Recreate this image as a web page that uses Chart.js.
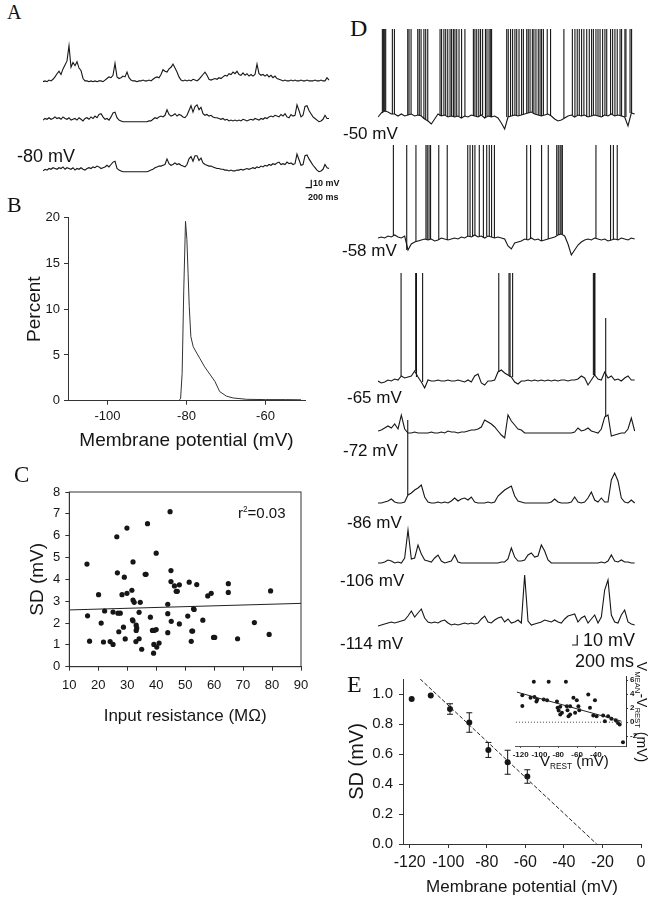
<!DOCTYPE html>
<html>
<head>
<meta charset="utf-8">
<script src="https://cdn.jsdelivr.net/npm/chart.js"></script>
<style>
html, body { margin: 0; padding: 0; background: #fff; width: 658px; height: 899px; overflow: hidden; }
#fig { position: relative; width: 658px; height: 899px; font-family: 'Liberation Sans', Arial, sans-serif; color: #111; }
#fig canvas { position: absolute; }
.t { position: absolute; white-space: nowrap; line-height: 1; transform: translateY(-50%); }
.l { font-family: 'Liberation Serif', 'Times New Roman', serif; }
.rot { transform: translate(-50%, -50%) rotate(90deg); }
sub { font-size: 0.55em; vertical-align: -0.3em; }
</style>
</head>
<body>
<div id="fig"></div>
<script>
// ---- A: spontaneous activity at -80 mV (mV above rest, one sample every 70 ms)
const aStep = 70;
const a1 = [0,1,0,2,1,3,6,10,13,9,16,21, 26,45,18,24,20,25,17,14,4,1,1,0,
            1,0,1,0,1,1,0,2,4,6,5,8, 23,6,4,5,7,6,12,5,2,1,1,0,
            1,1,2,1,1,2,1,3,5,6,5,9, 15,13,12,16,18,22,17,12,6,2,1,2,
            1,2,1,3,2,1,3,6,9,12,8,3, 2,3,4,3,5,4,6,8,7,10,9,12,
            10,13,9,8,11,8,10,7,9,7,9,22, 10,8,9,7,9,6,8,5,7,4,3,2,
            1,2,1,1,2,1,2,1,1,2,1,1, 2,1,1,1,2,1,1,2,1,1,5,2];
const a2 = [2,4,3,5,3,4,6,4,5,3,6,4, 3,5,2,3,4,2,5,3,1,4,5,3,
            6,4,7,5,9,10,6,3,4,2,6,11, 12,5,2,1,0,0,0,0,0,0,0,0,
            0,0,0,0,0,1,1,3,5,4,6,7, 6,8,15,9,7,8,10,7,9,8,6,5,
            8,14,20,12,19,21,15,18,10,8,9,7, 8,6,5,5,4,3,4,2,3,1,2,1,
            2,1,2,1,3,2,1,2,3,2,4,3, 2,4,3,5,4,6,7,6,8,7,6,9,
            7,10,6,5,9,7,8,21,14,6,8,19, 20,14,10,6,4,2,0,1,3,8,4,4];
const a3 = [1,3,2,4,3,5,4,3,5,4,6,3, 5,4,3,5,2,4,3,5,3,2,4,5,
            4,6,5,7,6,4,5,6,8,6,9,12, 13,4,2,1,0,0,0,0,0,0,0,0,
            0,0,0,0,0,1,2,3,5,6,7,7, 8,9,16,10,8,9,11,9,10,8,7,6,
            9,16,19,13,20,20,14,17,11,9,8,7, 7,6,5,4,4,3,3,2,2,1,2,1,
            1,2,2,3,2,3,4,3,4,5,4,6, 5,7,6,8,7,9,8,10,9,11,12,9,
            10,9,12,10,11,9,10,22,15,8,9,20, 21,16,12,8,5,2,0,1,3,9,5,4];

// ---- B: membrane potential histogram
const bPot = [-110,-82,-81.5,-81.1,-80.7,-80.25,-79.9,-79.6,-79.3,-78.9,-78.3,-77.4,-76.6,-75.4,-74.1,-72.8,-71.6,-69.9,-68.2,-64.8,-60,-55,-51];
const bPct = [0,0,0.2,3,12,19.6,17.6,13.9,10.3,7,5.9,5.2,4.6,3.7,2.9,2.1,1,0.5,0.3,0.15,0.12,0.12,0.1];

// ---- C: SD vs input resistance
const cRes = [16.1,26.4,29.9,37.0,44.8,40.0,32.0,26.6,29.0,36.2, 36.5,45.1,45.1,46.3,48.0,46.9,47.3,51.4,54.0,64.9,
              64.9,57.8,59.0,79.5,20.1,28.2,29.9,31.6,32.0,32.4, 34.5,44.0,52.9,53.1,16.3,22.2,25.1,26.8,27.6,34.1,
              31.8,32.0,38.0,44.0,50.9,21.0,45.2,48.0,56.1,73.9, 28.7,33.1,33.3,27.1,33.1,38.7,40.0,39.3,44.0,52.3,
              52.6,79.0,17.0,21.8,24.1,25.1,29.3,33.0,34.1,39.2, 40.2,41.0,35.0,39.1,59.8,60.2,52.1,68.1];
const cSd = [4.7,5.95,6.35,6.55,7.1,5.2,4.8,4.3,4.1,4.23, 4.23,4.4,3.9,3.7,3.75,3.45,3.45,3.87,3.76,3.8,
             3.4,3.24,3.36,3.47,3.3,3.3,3.36,3.5,3.05,2.95, 2.95,2.86,2.65,2.62,2.33,2.55,2.5,2.45,2.45,2.49,
             2.15,2.1,2.27,2.43,2.32,2.0,2.08,1.96,2.13,2.02, 1.81,1.9,1.77,1.6,1.66,1.66,1.7,1.66,1.56,1.63,
             1.63,1.48,1.17,1.13,1.15,1.02,1.27,1.15,1.28,1.02, 0.9,1.08,0.8,0.62,1.34,1.34,1.16,1.28];
const cFitX = [10, 90];
const cFitY = [2.6, 2.9];

// ---- D: traces at different holding potentials (mV above baseline, one sample every 130 ms)
const dStep = 130;
const d1 = [0,4,6,5,3,3,1,3,1,2, 3,1,2,1,-2,-4,-7,-2,3,1, 2,0,1,0,1,-1,1,0,2,1, 0,2,-1,1,0,1,-1,-6,-12,0,
            1,2,1,2,3,4,5,3,2,1, 2,3,1,-2,-4,-3,-1,1,2,0, 2,1,2,0,1,2,1,0,2,1, 3,1,2,1,0,-9,4,3];
const d2 = [2,3,2,4,3,5,3,2,4,-10, -4,-2,-1,0,1,0,1,-1,0,2, 1,0,1,2,1,3,2,4,3,5, 3,4,2,4,3,2,3,2,1,-6,
            -9,-3,-2,-1,1,0,2,0,1,-1, 0,1,2,3,5,6,4,-4,-15,-10, -5,-2,0,1,0,2,1,0,1,-1, 0,1,0,2,1,0,2,1];
const d3 = [-1,-3,-2,0,-1,1,0,4,2,3, 4,9,3,-2,-8,0,-1,-1,0,-1, -1,0,-1,-1,0,-1,-2,0,-2,4, 6,-3,-5,-1,-1,0,8,10,7,5,
            3,-2,-4,-1,-1,0,-1,0,-1,0, -1,0,-1,0,-1,0,0,-1,0,0, 1,4,2,-5,0,5,1,0,8,2, 4,0,1,-1,2,4,0,0];
const d4 = [2,3,5,7,5,9,4,18,4,0, 0,1,0,0,0,0,1,0,0,1, 0,2,1,1,0,1,1,2,3,3, 4,6,13,11,9,6,2,-2,-5,18,
            12,8,4,3,0,0,0,0,0,0, 0,0,0,0,0,0,0,0,0,1, 5,2,3,5,2,1,0,4,16,18, -3,-2,-1,0,0,4,15,2];
const d5 = [0,0,1,2,4,1,0,0,1,8, 10,13,15,18,6,1,0,0,1,0, 1,0,2,5,2,4,5,3,6,1, 0,0,0,1,0,1,7,10,13,15,
            17,7,2,1,0,0,0,0,0,0, 0,0,1,4,1,0,0,0,1,6, 1,0,1,5,11,3,1,5,1,1, 23,30,22,5,1,0,3,0];
const d6 = [0,0,1,3,2,0,1,0,5,33, 4,5,18,9,3,2,1,5,8,2, 0,1,2,8,1,0,0,0,0,0, 0,0,0,0,0,0,0,1,1,4,
            15,6,2,2,3,8,10,6,7,18, 12,3,0,0,0,0,0,0,0,0, 0,0,0,0,0,0,0,1,0,2, 8,2,1,3,1,1,0,0];
const d7 = [-1,0,1,2,3,2,3,4,5,9, 14,8,12,16,7,3,2,3,2,4, 5,2,0,1,0,1,2,1,2,1, 2,6,9,3,2,5,7,8,3,6,
            2,3,5,2,50,4,0,1,2,3, 5,4,3,5,3,2,6,9,10,11, 3,7,9,2,6,10,2,8,35,45, 10,3,2,10,15,3,1,0];
// spike times (ms)
const d1Spikes = [170,210,260,300,560,640,1160,1210,1290,1550,1610,1680,1790,1860,1940,2420,2480,2570,2640,2720,
                  2810,2870,2940,3000,3070,3160,3260,3390,3720,3780,3850,3930,4000,4080,4190,4250,4330,4380,4430,
                  5020,5080,5170,5250,5340,5410,5500,5600,5670,5800,5860,5930,6020,6080,6160,6250,6320,6380,6450,
                  6600,6730,7250,7580,7680,7770,7850,7940,8030,8140,8240,8330,8400,8500,8580,8660,8760,8850,8920,
                  9070,9150,9240,9330,9440,9500,9630,9670,9830,9890];
const d2Spikes = [600,1120,1480,1870,1920,1990,2050,2370,2700,3500,3590,3690,3780,3950,4110,4240,4340,4430,4540,
                  5800,5950,6380,6640,6970,7030,7100,7140,7190,8500,9070,9180,9330];
const d3Spikes = [900,1470,1500,1740,4710,5110,5150,5250,8400,8440,8460];
const d4Spikes = [8880];
const d5Spikes = [1160];
const dPeaks = [88, 95, 107, 115, 83];

// ---- E: SD vs membrane potential, inset V_mean - V_rest vs V_rest
const eV = [-119, -109.1, -99.1, -89.1, -79.2, -69.2, -59];
const eSd = [0.967, 0.99, 0.9, 0.81, 0.627, 0.545, 0.45];
const eErr = [0, 0, 0.035, 0.065, 0.05, 0.08, 0.045];
const eFitX = [-114.6, -23];
const eFitY = [1.1, 0];
const insRest = [-118.2,-118.2,-109.5,-105.3,-102.4,-103.2,-106,-90.2,-71.9,-95.5,-91.9,-81.4,-80.7,-77.9,-79.6,-76.1,-77.9,
                 -70.9,-67.4,-63.9,-60.3,-58.6,-70.2,-69.1,-62.1,-57.6,-67.4,-48.1,-41,-46.3,-42.8,-39.3,-32.3,-30.5,-27,
                 -23.5,-18.9,-16.5,-14.7,-11.2];
const insDiff = [3.86,2.3,3.5,3.6,3.24,2.96,5.77,5.77,5.77,3.24,3.14,2.96,2.05,2.2,1.67,1.34,1.1,
                 2.29,2.29,3.5,3.14,2.29,1.72,0.86,1.34,1.72,1.1,3.96,3.14,2.05,0.96,0.86,0.96,0.14,0.86,
                 0.48,0.29,-0.1,-0.33,-2.86];
const insFitX = [-124, -13];
const insFitY = [4.3, 0.15];

// ---------------------------------------------------------------
const fig = document.getElementById('fig');
const INK = '#161616';

function makeCanvas(left, top, w, h) {
    const c = document.createElement('canvas');
    c.width = w; c.height = h;
    c.style.left = left + 'px'; c.style.top = top + 'px';
    c.style.width = w + 'px'; c.style.height = h + 'px';
    fig.appendChild(c);
    return c.getContext('2d');
}

function text(html, x, y, size, cls) {
    const d = document.createElement('div');
    d.className = 't ' + (cls || '');
    d.style.left = x + 'px';
    d.style.top = y + 'px';
    d.style.fontSize = size + 'px';
    d.innerHTML = html;
    fig.appendChild(d);
    return d;
}

const xy = (xs, ys) => xs.map((x, i) => ({x: x, y: ys[i]}));

const base = {
    animation: false, responsive: false, devicePixelRatio: 1,
    plugins: {legend: {display: false}, tooltip: {enabled: false}}
};

function axis(o) {
    return Object.assign({
        type: 'linear',
        grid: {display: true, drawOnChartArea: false, tickLength: 4, color: '#333'},
        border: {display: true, color: '#333', width: 1}
    }, o);
}

// one trace = one canvas; every spike is its own two-point line
function trace(samples, step, spikes, peak, left, width, msPx, baseY, top, bottom, mvPx, bar) {
    const ctx = makeCanvas(left, top, width, bottom - top);
    const sets = [{data: samples.map((v, i) => ({x: i * step, y: v})), borderWidth: 1.1}];
    (spikes || []).forEach(t => {
        const b = samples[Math.min(samples.length - 1, Math.round(t / step))];
        sets.push({data: [{x: t, y: b}, {x: t, y: peak}], borderWidth: 1.1});
    });
    if (bar) {
        sets.push({data: [{x: bar.t, y: bar.v}, {x: bar.t + 200, y: bar.v}, {x: bar.t + 200, y: bar.v + 10}], borderWidth: 1.2});
    }
    sets.forEach(s => Object.assign(s, {showLine: true, pointRadius: 0, borderColor: INK}));
    new Chart(ctx, {
        type: 'scatter',
        data: {datasets: sets},
        options: Object.assign({}, base, {
            layout: {padding: 0},
            scales: {
                x: {display: false, min: 0, max: width * msPx},
                y: {display: false, min: -(bottom - baseY) * mvPx, max: (baseY - top) * mvPx}
            }
        })
    });
}

// ---- panel A
trace(a1, aStep, null, 0, 43, 290, 35, 81.7, 40, 92, 1.25);
trace(a2, aStep, null, 0, 43, 290, 35, 121.7, 100, 132, 1.25);
trace(a3, aStep, null, 0, 43, 290, 35, 171.7, 145, 195, 1.25, {t: 9190, v: -20});
text('A', 7, 12, 20, 'l');
text('-80 mV', 17, 156, 18);
text('10 mV', 313, 183, 9).style.fontWeight = 'bold';
text('200 ms', 308, 197, 9).style.fontWeight = 'bold';

// ---- panel B
new Chart(makeCanvas(0, 200, 330, 260), {
    type: 'scatter',
    data: {datasets: [{data: xy(bPot, bPct), showLine: true, borderColor: '#333', borderWidth: 1, pointRadius: 0}]},
    options: Object.assign({}, base, {
        layout: {padding: {top: 17.7, right: 25, left: 0, bottom: 0}},
        scales: {
            x: axis({min: -110, max: -50,
                afterBuildTicks: s => { s.ticks = [-100, -80, -60].map(v => ({value: v})); },
                afterFit: s => { s.height = 59.3; },
                ticks: {color: INK, font: {size: 13}, padding: 3.5},
                title: {display: true, text: 'Membrane potential (mV)', color: INK, font: {size: 19}, padding: {top: 0, bottom: 7.6}}}),
            y: axis({min: 0, max: 20,
                afterFit: s => { s.width = 68; },
                ticks: {stepSize: 5, color: INK, font: {size: 13}, padding: 4},
                title: {display: true, text: 'Percent', color: INK, font: {size: 19}, padding: {top: 23.6, bottom: 0}}})
        }
    })
});
text('B', 7, 205, 22, 'l');

// ---- panel C
const frame = {
    id: 'frame',
    afterDraw(chart) {
        const {ctx, chartArea: a} = chart;
        ctx.save();
        ctx.strokeStyle = '#333'; ctx.lineWidth = 1;
        ctx.strokeRect(a.left, a.top, a.right - a.left, a.bottom - a.top);
        ctx.restore();
    }
};
new Chart(makeCanvas(0, 470, 330, 260), {
    type: 'scatter',
    data: {datasets: [
        {data: xy(cRes, cSd), pointRadius: 2.6, backgroundColor: INK, borderColor: INK, borderWidth: 0},
        {data: xy(cFitX, cFitY), showLine: true, pointRadius: 0, borderColor: '#222', borderWidth: 1}
    ]},
    options: Object.assign({}, base, {
        layout: {padding: {top: 22, right: 29, left: 0, bottom: 0}},
        scales: {
            x: axis({min: 10, max: 90,
                afterFit: s => { s.height = 63.3; },
                ticks: {stepSize: 10, color: INK, font: {size: 13}, padding: 7},
                title: {display: true, text: 'Input resistance (MΩ)', color: INK, font: {size: 17}, padding: {top: 0, bottom: 3.8}}}),
            y: axis({min: 0, max: 8,
                afterFit: s => { s.width = 69.3; },
                ticks: {stepSize: 1, color: INK, font: {size: 13}, padding: 5},
                title: {display: true, text: 'SD (mV)', color: INK, font: {size: 19}, padding: {top: 26, bottom: 0}}})
        }
    }),
    plugins: [frame]
});
text('C', 14, 474, 23, 'l');
text('r<sup style="font-size:0.55em">2</sup>=0.03', 238, 512, 15);

// ---- panel D
trace(d1, dStep, d1Spikes, dPeaks[0], 378, 262, 39, 117, 20, 135, 1);
trace(d2, dStep, d2Spikes, dPeaks[1], 378, 262, 39, 240, 140, 262, 1);
trace(d3, dStep, d3Spikes, dPeaks[2], 378, 262, 39, 380, 268, 398, 1);
trace(d4, dStep, d4Spikes, dPeaks[3], 378, 262, 39, 433, 310, 445, 1);
trace(d5, dStep, d5Spikes, dPeaks[4], 378, 262, 39, 503, 410, 515, 1);
trace(d6, dStep, null, 0, 378, 262, 39, 563, 520, 575, 1);
trace(d7, dStep, null, 0, 378, 262, 39, 625, 570, 650, 1, {t: 7570, v: -20});
text('D', 350, 28, 24, 'l');
text('-50 mV', 343, 133, 17);
text('-58 mV', 342, 250, 17);
text('-65 mV', 347, 397, 17);
text('-72 mV', 343, 450, 17);
text('-86 mV', 347, 522, 17);
text('-106 mV', 340, 580, 17);
text('-114 mV', 340, 643, 17);
text('10 mV', 583, 640, 18);
text('200 ms', 575, 661, 18);

// ---- panel E
const errSeg = [], errCap = [];
eV.forEach((v, i) => {
    if (!eErr[i]) return;
    errSeg.push({x: v, y: eSd[i] - eErr[i]}, {x: v, y: eSd[i] + eErr[i]}, {x: v, y: null});
    errCap.push({x: v, y: eSd[i] - eErr[i]}, {x: v, y: eSd[i] + eErr[i]});
});
new Chart(makeCanvas(340, 660, 318, 239), {
    type: 'scatter',
    data: {datasets: [
        {data: xy(eFitX, eFitY), showLine: true, pointRadius: 0, borderColor: '#222', borderWidth: 1, borderDash: [4, 2]},
        {data: errSeg, showLine: true, pointRadius: 0, borderColor: INK, borderWidth: 1, spanGaps: false},
        {data: errCap, pointStyle: 'line', pointRadius: 3, borderColor: INK, borderWidth: 1},
        {data: xy(eV, eSd), pointRadius: 3, backgroundColor: INK, borderColor: INK, borderWidth: 0}
    ]},
    options: Object.assign({}, base, {
        layout: {padding: {top: 19, right: 17, left: 0, bottom: 0}},
        scales: {
            x: axis({min: -123.5, max: 0,
                afterBuildTicks: s => { s.ticks = [-120, -100, -80, -60, -40, -20, 0].map(v => ({value: v})); },
                afterFit: s => { s.height = 55; },
                ticks: {color: INK, font: {size: 16}, padding: 5},
                title: {display: true, text: 'Membrane potential (mV)', color: INK, font: {size: 17}, padding: {top: 0, bottom: 1.8}}}),
            y: axis({min: 0, max: 1.1,
                afterBuildTicks: s => { s.ticks = [0, 0.2, 0.4, 0.6, 0.8, 1.0].map(v => ({value: v})); },
                afterFit: s => { s.width = 63; },
                ticks: {color: INK, font: {size: 15}, padding: 6, callback: v => v.toFixed(1)},
                title: {display: true, text: 'SD (mV)', color: INK, font: {size: 20}, padding: {top: 5, bottom: 0}}})
        }
    })
});
text('E', 347, 684, 24, 'l');

// inset
new Chart(makeCanvas(505, 668, 140, 97), {
    type: 'scatter',
    data: {datasets: [
        {data: xy([-125, -12], [0, 0]), showLine: true, pointRadius: 0, borderColor: '#444', borderWidth: 1, borderDash: [1, 2]},
        {data: xy(insFitX, insFitY), showLine: true, pointRadius: 0, borderColor: '#222', borderWidth: 1},
        {data: xy(insRest, insDiff), pointRadius: 2, backgroundColor: INK, borderColor: INK, borderWidth: 0}
    ]},
    options: Object.assign({}, base, {
        layout: {padding: {top: 8, right: 0, left: 10, bottom: 0}},
        scales: {
            x: axis({min: -126, max: -8,
                afterBuildTicks: s => { s.ticks = [-120, -100, -80, -60, -40].map(v => ({value: v})); },
                afterFit: s => { s.height = 19; },
                grid: {display: true, drawOnChartArea: false, tickLength: 2, color: '#555'},
                border: {display: true, color: '#555', width: 1, dash: [1, 2]},
                ticks: {color: INK, font: {size: 8, weight: 'bold'}, padding: 2}}),
            y: axis({position: 'right', min: -3.4, max: 6.6,
                afterBuildTicks: s => { s.ticks = [-2, 0, 2, 4, 6].map(v => ({value: v})); },
                afterFit: s => { s.width = 19; },
                grid: {display: true, drawOnChartArea: false, tickLength: 2, color: '#333'},
                ticks: {color: INK, font: {size: 8, weight: 'bold'}, padding: 2}})
        }
    })
});
text('V<sub>REST</sub> (mV)', 540, 762, 15);
text('V<sub>MEAN</sub>-V<sub>REST</sub> (mV)', 641, 712, 14, 'rot');
</script>
</body>
</html>
